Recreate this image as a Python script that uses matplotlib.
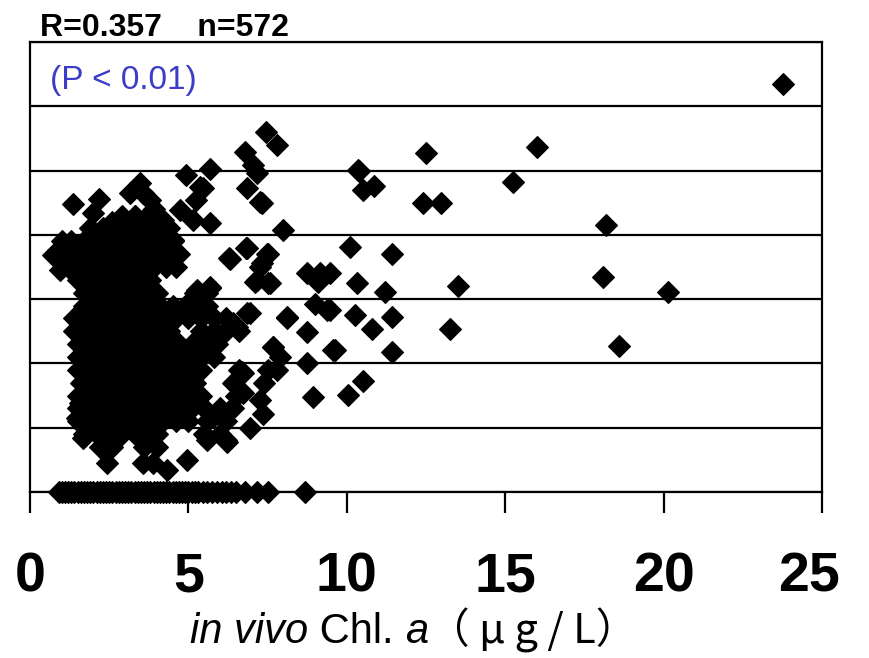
import matplotlib
matplotlib.use('Agg')
import matplotlib.pyplot as plt
from matplotlib.offsetbox import TextArea, HPacker, AnchoredOffsetbox
from matplotlib.transforms import ScaledTranslation

plt.rcParams['font.family'] = ['Liberation Sans', 'Noto Sans CJK JP', 'DejaVu Sans']

# --- data ---
# points lying on zero
zero_x = [0.9, 1.0, 1.1, 1.2, 1.3, 1.4, 1.5, 1.6, 1.7, 1.8, 1.9, 2.0, 2.1, 2.2,
          2.3, 2.4, 2.5, 2.6, 2.7, 2.8, 2.9, 3.0, 3.1, 3.2, 3.3, 3.4, 3.5, 3.6,
          3.7, 3.8, 3.9, 4.0, 4.1, 4.2, 4.3, 4.4, 4.5, 4.6, 4.7, 4.8, 4.9, 5.0,
          5.1, 5.2, 5.3, 5.45, 5.6, 5.75, 5.9, 6.05, 6.2, 6.35, 6.5, 6.8, 7.15,
          7.5, 8.68]

# dense cluster, row by row
cluster_rows = {
    4.3: [2.9, 3.3, 3.7],
    4.1: [1.9, 2.3, 2.7, 3.1, 3.5, 3.9],
    3.9: [1.0, 1.3, 1.7, 2.1, 2.5, 2.9, 3.3, 3.7, 4.1, 4.5],
    3.7: [0.9, 1.2, 1.6, 2.0, 2.4, 2.8, 3.2, 3.6, 4.0, 4.4, 4.7],
    3.5: [1.2, 1.5, 1.9, 2.3, 2.7, 3.1, 3.5, 3.9, 4.3, 4.6],
    3.3: [1.5, 1.8, 2.2, 2.6, 3.0, 3.4, 3.8],
    3.1: [1.7, 2.0, 2.4, 2.8, 3.2, 3.6, 4.0, 5.2, 5.6],
    2.9: [1.7, 2.1, 2.5, 2.9, 3.3, 3.7, 4.1, 4.5, 4.9, 5.3, 5.6],
    2.7: [1.4, 1.8, 2.2, 2.6, 3.0, 3.4, 3.8, 4.2, 4.6, 5.0, 5.4, 5.8, 6.2],
    2.5: [1.4, 1.7, 2.1, 2.5, 2.9, 3.3, 3.7, 4.1, 4.4, 5.4, 5.8, 6.2, 6.6],
    2.3: [1.5, 1.9, 2.3, 2.7, 3.1, 3.5, 3.9, 4.3, 4.7, 5.1, 5.5, 5.9],
    2.1: [1.5, 1.8, 2.2, 2.6, 3.0, 3.4, 3.8, 4.2, 4.6, 5.0, 5.4, 5.8],
    1.9: [1.5, 1.9, 2.3, 2.7, 3.1, 3.5, 3.9, 4.3, 4.7, 5.1, 5.4, 6.6, 7.5],
    1.7: [1.6, 2.0, 2.4, 2.8, 3.2, 3.6, 4.0, 4.4, 4.8, 5.2, 6.4, 7.4],
    1.5: [1.5, 1.8, 2.2, 2.6, 3.0, 3.4, 3.8, 4.2, 4.6, 5.0, 5.4, 6.5],
    1.3: [1.5, 1.9, 2.3, 2.7, 3.1, 3.5, 3.9, 4.3, 4.7, 5.1, 5.5, 6.0, 6.4],
    1.1: [1.5, 1.8, 2.2, 2.6, 3.0, 3.4, 3.8, 4.2, 4.6, 5.0, 5.6, 6.2],
    0.9: [1.7, 2.1, 2.5, 2.9, 3.3, 3.7, 4.0, 5.5, 6.0],
    0.7: [2.2, 2.6, 3.6, 4.0],
}

# scattered points
scatter_x = [1.36, 2.18, 1.99, 3.47, 3.57, 3.16, 3.79, 4.92, 5.68, 5.37, 5.24, 4.73,
             5.68, 5.15, 4.51, 2.84, 2.43, 4.2, 3.3, 2.6, 3.9, 4.4,
             6.79, 7.04, 7.17, 7.45, 7.8, 6.85, 5.46, 7.32, 7.99, 7.26,
             6.31, 6.84, 7.47, 7.26, 7.16, 7.58, 8.1, 5.68, 5.26, 6.84, 6.52,
             7.68, 6.73, 6.68, 7.37, 6.94, 6.2, 5.58, 4.95, 4.31, 2.42, 3.58,
             0.73, 0.95, 1.58, 1.48, 1.67, 3.88, 5.59, 6.22, 6.72, 6.69, 7.26,
             7.89, 7.8, 7.67, 6.94, 6.1, 6.4, 5.78, 6.31,
             8.11, 8.74, 9.0, 9.37, 8.93, 8.74, 9.56, 8.74, 9.15, 9.1, 6.28, 6.82,
             7.51, 7.32, 7.1, 7.51, 5.68,
             23.77, 12.5, 16.0, 10.39, 10.5, 10.86, 12.4, 12.97, 15.25, 18.18,
             10.1, 11.43, 10.32, 11.2, 13.51, 18.09, 20.14, 9.47, 9.47, 10.26,
             10.8, 11.43, 13.26, 18.59, 9.63, 11.43, 10.51, 10.04, 10.35]
scatter_y = [4.48, 4.56, 4.34, 4.81, 4.65, 4.65, 4.54, 4.93, 5.02, 4.74, 4.54, 4.39,
             4.18, 4.23, 3.92, 4.23, 3.97, 4.23, 4.3, 4.2, 4.4, 4.1,
             5.29, 5.09, 4.96, 5.60, 5.40, 4.73, 4.73, 4.49, 4.07, 4.51,
             3.63, 3.79, 3.71, 3.50, 3.30, 3.25, 2.70, 3.19, 3.14, 2.78, 2.57,
             2.26, 1.85, 1.56, 1.22, 0.99, 0.81, 0.86, 0.50, 0.34, 0.45, 0.45,
             3.69, 3.45, 1.38, 1.15, 0.84, 0.45, 0.81, 0.78, 1.54, 1.87, 1.43,
             2.10, 1.90, 2.26, 2.78, 2.47, 2.63, 1.17, 1.28,
             2.72, 2.49, 2.92, 2.83, 1.48, 2.0, 2.21, 3.41, 3.41, 3.27, 3.64, 3.79,
             3.70, 3.56, 3.27, 3.25, 3.17,
             6.35, 5.27, 5.37, 4.99, 4.70, 4.76, 4.49, 4.49, 4.82, 4.15,
             3.81, 3.70, 3.25, 3.11, 3.20, 3.34, 3.11, 3.41, 2.83, 2.75,
             2.53, 2.72, 2.53, 2.27, 2.21, 2.18, 1.73, 1.51, 5.01]

xs = list(zero_x) + list(scatter_x)
ys = [0.0] * len(zero_x) + list(scatter_y)
for yv, row in cluster_rows.items():
    xs += row
    ys += [yv] * len(row)

fig = plt.figure(figsize=(8.7, 6.58), dpi=100)
ax = fig.add_axes([30 / 870, 1 - 492 / 658, 792 / 870, 450 / 658])

ax.plot(xs, ys, linestyle='none', marker='D', markersize=11.5,
        color='black', markeredgewidth=0.8, clip_on=False, zorder=3)

ax.set_xlim(0, 25)
ax.set_ylim(0, 7)
ax.set_yticks(range(0, 8))
ax.set_yticklabels([])
ax.tick_params(axis='y', length=0)
ax.grid(axis='y', color='black', linewidth=1.6)
ax.set_axisbelow(True)
for s in ax.spines.values():
    s.set_linewidth(1.6)

ax.set_xticks([0, 5, 10, 15, 20, 25])
ax.tick_params(axis='x', direction='out', length=15, width=1.6, pad=28,
               labelsize=40)
for lab in ax.get_xticklabels():
    lab.set_fontweight('bold')
# last label is pulled in a bit so it stays inside the picture
last = ax.get_xticklabels()[-1]
last.set_transform(last.get_transform() + ScaledTranslation(-0.13, 0, fig.dpi_scale_trans))

# x label with mixed italic / upright parts
fs = 30
parts = [
    TextArea('in vivo', textprops=dict(fontsize=fs, fontstyle='italic')),
    TextArea(' Chl. ', textprops=dict(fontsize=fs)),
    TextArea('a', textprops=dict(fontsize=fs, fontstyle='italic')),
    TextArea('（ μ g / L）', textprops=dict(fontsize=fs,
                                          family=['Noto Sans CJK JP', 'DejaVu Sans'])),
]
label_box = HPacker(children=parts, align='baseline', pad=0, sep=0)
anchored = AnchoredOffsetbox(loc='center', child=label_box, frameon=False,
                             bbox_to_anchor=(414 / 870, 1 - 630 / 658),
                             bbox_transform=fig.transFigure, borderpad=0, pad=0)
fig.add_artist(anchored)

fig.text(40 / 870, 1 - 36 / 658, 'R=0.357    n=572', fontsize=23,
         fontweight='bold')
ax.text(0.025, 0.95, '(P < 0.01)', transform=ax.transAxes, fontsize=24,
        color='#3c3cc8', va='top')

fig.savefig('out.png', dpi=100)
